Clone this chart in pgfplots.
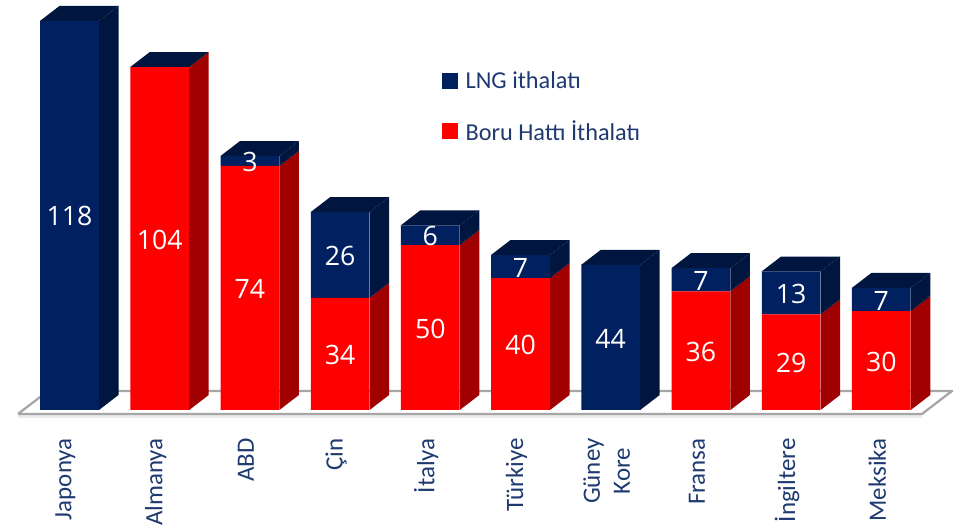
\documentclass[border=0pt]{standalone}
\usepackage{pgfplots}
\pgfplotsset{compat=1.18}
\usepackage{fontspec}
\setmainfont{Carlito}
\newfontfamily\numf{Open Sans}
\definecolor{navy}{HTML}{002060}
\definecolor{navyd}{HTML}{00163F}
\definecolor{redd}{HTML}{A00000}
\definecolor{txt}{HTML}{1F3A70}
\pgfplotsset{base/.style={at={(0,0)},anchor=south west,scale only axis,clip=false,
  width=714.75pt,height=395.25pt,xmin=0,xmax=953,ymin=-35.49,ymax=124.35}}
\pgfplotsset{sn/.style={fill=navyd,draw=none,forget plot},
             sr/.style={fill=redd,draw=none,forget plot}}
\begin{document}
\begin{tikzpicture}
\path[use as bounding box] (0,0) rectangle (714.75pt,395.25pt);
% depth faces and floor
\begin{axis}[base,hide axis]
\addplot[fill=white,draw=none,forget plot] coordinates {(18,-1.2) (922,-1.2) (952,5.76) (48,5.76)};
\addplot[draw=black!8,line width=2pt,forget plot] coordinates {(18,-2) (922,-2)};
\addplot[draw=black!35,line width=1.7pt,forget plot] coordinates {(18,-1.2) (922,-1.2) (952,5.76) (48,5.76) (18,-1.2)};
% sides: red parts
\addplot[sr] coordinates {(189.2,0) (208.7,4.55) (208.7,108.55) (189.2,104)};
\addplot[sr] coordinates {(279.4,0) (298.9,4.55) (298.9,78.55) (279.4,74)};
\addplot[sr] coordinates {(369.6,0) (389.1,4.55) (389.1,38.55) (369.6,34)};
\addplot[sr] coordinates {(459.8,0) (479.3,4.55) (479.3,54.55) (459.8,50)};
\addplot[sr] coordinates {(550,0) (569.5,4.55) (569.5,44.55) (550,40)};
\addplot[sr] coordinates {(730.4,0) (749.9,4.55) (749.9,40.55) (730.4,36)};
\addplot[sr] coordinates {(820.6,0) (840.1,4.55) (840.1,33.55) (820.6,29)};
\addplot[sr] coordinates {(910.8,0) (930.3,4.55) (930.3,34.55) (910.8,30)};
% sides: navy parts
\addplot[sn] coordinates {(99,0) (118.5,4.55) (118.5,122.55) (99,118)};
\addplot[sn] coordinates {(279.4,74) (298.9,78.55) (298.9,81.55) (279.4,77)};
\addplot[sn] coordinates {(369.6,34) (389.1,38.55) (389.1,64.55) (369.6,60)};
\addplot[sn] coordinates {(459.8,50) (479.3,54.55) (479.3,60.55) (459.8,56)};
\addplot[sn] coordinates {(550,40) (569.5,44.55) (569.5,51.55) (550,47)};
\addplot[sn] coordinates {(640.2,0) (659.7,4.55) (659.7,48.55) (640.2,44)};
\addplot[sn] coordinates {(730.4,36) (749.9,40.55) (749.9,47.55) (730.4,43)};
\addplot[sn] coordinates {(820.6,29) (840.1,33.55) (840.1,46.55) (820.6,42)};
\addplot[sn] coordinates {(910.8,30) (930.3,34.55) (930.3,41.55) (910.8,37)};
% tops
\addplot[sn] coordinates {(40,118) (59.5,122.55) (118.5,122.55) (99,118)};
\addplot[sn] coordinates {(130.2,104) (149.7,108.55) (208.7,108.55) (189.2,104)};
\addplot[sn] coordinates {(220.4,77) (239.9,81.55) (298.9,81.55) (279.4,77)};
\addplot[sn] coordinates {(310.6,60) (330.1,64.55) (389.1,64.55) (369.6,60)};
\addplot[sn] coordinates {(400.8,56) (420.3,60.55) (479.3,60.55) (459.8,56)};
\addplot[sn] coordinates {(491,47) (510.5,51.55) (569.5,51.55) (550,47)};
\addplot[sn] coordinates {(581.2,44) (600.7,48.55) (659.7,48.55) (640.2,44)};
\addplot[sn] coordinates {(671.4,43) (690.9,47.55) (749.9,47.55) (730.4,43)};
\addplot[sn] coordinates {(761.6,42) (781.1,46.55) (840.1,46.55) (820.6,42)};
\addplot[sn] coordinates {(851.8,37) (871.3,41.55) (930.3,41.55) (910.8,37)};
\end{axis}
% front faces
\begin{axis}[base,ybar stacked,bar width=44pt,
  axis line style={draw=none},ymajorticks=false,tick style={draw=none},
  xtick={69.5,159.7,249.9,340.1,430.3,520.5,610.7,700.9,791.1,881.3},
  xticklabels={Japonya,Almanya,ABD,Çin,İtalya,Türkiye,{Güney\\Kore},Fransa,İngiltere,Meksika},
  xticklabel style={yshift=70pt,xshift=-3pt,rotate=90,anchor=east,align=center,
    font=\fontsize{18.7}{22.5}\selectfont,text=txt},
  point meta=rawy,
  /pgf/number format/assume math mode=true,
  nodes near coords={\pgfmathfloatifflags{\pgfplotspointmeta}{0}{}{\pgfmathprintnumber{\pgfplotspointmeta}}},
  every node near coord/.append style={text=white,
    font=\numf\fontsize{20}{21}\selectfont,yshift=-0.75pt},
  reverse legend,
  legend style={at={(442pt*0.75,395.25pt-69pt*0.75)},anchor=north west,draw=none,fill=none,
    font=\fontsize{18.2}{20}\selectfont,text=txt,row sep=18.3pt,inner sep=0pt},
  legend cell align=left,
  legend image code/.code={\fill[#1] (0pt,-6pt) rectangle (12pt,6pt);\path[draw=none,fill=none] (0pt,0pt) rectangle (15.5pt,1pt);},
  ]
\addplot[fill=red,draw=none] table[row sep=\\] {x y\\
69.5 0\\159.7 104\\249.9 74\\340.1 34\\430.3 50\\520.5 40\\610.7 0\\700.9 36\\791.1 29\\881.3 30\\};
\addplot[fill=navy,draw=none] table[row sep=\\] {x y\\
69.5 118\\159.7 0\\249.9 3\\340.1 26\\430.3 6\\520.5 7\\610.7 44\\700.9 7\\791.1 13\\881.3 7\\};
\legend{Boru Hattı İthalatı,LNG ithalatı}
\end{axis}
\end{tikzpicture}
\end{document}
